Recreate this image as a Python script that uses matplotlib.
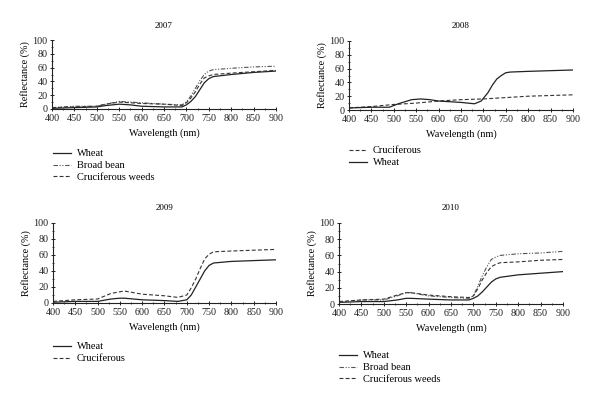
import matplotlib
matplotlib.use("Agg")
import matplotlib.pyplot as plt
from matplotlib.ticker import MultipleLocator

plt.rcParams['font.family'] = ['Liberation Serif', 'DejaVu Serif']

# ---- data ----
wl07 = [400, 450, 500, 520, 550, 575, 600, 650, 690, 700, 710, 720, 730, 740, 750, 760, 800, 850, 900]
wheat07 = [1, 2, 3, 5, 7, 6, 4, 3, 3, 6, 11, 18, 28, 38, 44, 47, 50, 53, 55]
bean07 = [2, 4, 4, 7, 11, 10, 9, 7, 6, 10, 19, 30, 41, 50, 55, 57, 59, 61, 62]
cruc07 = [2, 3, 4, 7, 10, 9, 8, 7, 5, 9, 16, 25, 36, 45, 48, 50, 52, 54, 56]

wl08 = [400, 450, 490, 510, 540, 560, 580, 600, 650, 680, 695, 710, 720, 730, 740, 750, 760, 800, 850, 900]
wheat08 = [3, 4, 4, 9, 15, 16, 15, 13, 11, 9, 13, 25, 36, 45, 50, 54, 55, 56, 57, 58]
wl08c = [400, 450, 500, 550, 600, 650, 700, 750, 800, 850, 900]
cruc08 = [3, 5, 8, 10, 13, 15, 16, 18, 20, 21, 22]

wl09 = [400, 450, 500, 530, 550, 560, 600, 650, 680, 700, 710, 720, 730, 740, 750, 760, 800, 850, 900]
wheat09 = [1, 2, 2, 5, 6, 6, 4, 3, 2, 4, 10, 20, 30, 40, 47, 50, 52, 53, 54]
cruc09 = [2, 4, 5, 12, 14, 15, 11, 9, 7, 10, 19, 30, 43, 55, 61, 64, 65, 66, 67]

wl10 = [400, 450, 500, 530, 550, 560, 600, 650, 690, 700, 710, 720, 730, 740, 750, 760, 800, 850, 900]
wheat10 = [2, 3, 3, 5, 7, 7, 6, 5, 5, 7, 10, 15, 21, 27, 31, 33, 36, 38, 40]
bean10 = [2, 5, 5, 10, 14, 14, 10, 8, 7, 10, 22, 35, 46, 55, 58, 60, 62, 63, 65]
cruc10 = [3, 5, 6, 11, 14, 14, 11, 9, 8, 10, 19, 30, 39, 46, 49, 51, 52, 54, 55]

xticks = [400, 450, 500, 550, 600, 650, 700, 750, 800, 850, 900]
yticks = [0, 20, 40, 60, 80, 100]

# ---- styles ----
S_WHEAT = dict(color='#222222', lw=0.9, ls='-')
S_BEAN = dict(color='#555555', lw=0.8, ls=(0, (4, 1.5, 1, 1.5, 1, 1.5)))
S_CRUC = dict(color='#333333', lw=0.8, ls=(0, (3.5, 2)))

W, H = 600, 403
fig = plt.figure(figsize=(6.0, 4.03), dpi=100)

FS = 6.5


def px_axes(l, r, top, bot):
    return fig.add_axes([l / W, 1 - bot / H, (r - l) / W, (bot - top) / H])


def style(ax, title):
    ax.set_xlim(400, 900)
    ax.set_ylim(0, 100)
    ax.set_xticks(xticks)
    ax.set_yticks(yticks)
    ax.xaxis.set_minor_locator(MultipleLocator(25))
    ax.yaxis.set_minor_locator(MultipleLocator(10))
    for s in ['top', 'right']:
        ax.spines[s].set_visible(False)
    for s in ['left', 'bottom']:
        ax.spines[s].set_linewidth(0.8)
        ax.spines[s].set_color('#222222')
    ax.tick_params(which='major', direction='inout', length=3.5, width=0.7,
                   labelsize=FS + 0.8, pad=1.5, colors='#222222')
    ax.tick_params(which='minor', direction='inout', length=2, width=0.6, colors='#222222')
    ax.set_xlabel('Wavelength (nm)', fontsize=FS + 0.8, labelpad=4)
    ax.set_ylabel('Reflectance (%)', fontsize=FS + 0.8, labelpad=2)
    ax.set_title(title, fontsize=FS, pad=9)


def legend(ax, x, ytop):
    ax.legend(loc='upper left', bbox_to_anchor=(x / W, 1 - ytop / H),
              bbox_transform=fig.transFigure, frameon=False, fontsize=FS + 1,
              borderpad=0, borderaxespad=0, handlelength=1.7, handletextpad=0.6,
              labelspacing=0.25)


# 2007
ax1 = px_axes(52, 276, 40, 109)
ax1.plot(wl07, wheat07, label='Wheat', **S_WHEAT)
ax1.plot(wl07, bean07, label='Broad bean', **S_BEAN)
ax1.plot(wl07, cruc07, label='Cruciferous weeds', **S_CRUC)
style(ax1, '2007')
legend(ax1, 53, 149)

# 2008
ax2 = px_axes(349, 573, 41, 110)
ax2.plot(wl08c, cruc08, label='Cruciferous', **S_CRUC)
ax2.plot(wl08, wheat08, label='Wheat', **S_WHEAT)
style(ax2, '2008')
legend(ax2, 349, 146)

# 2009
ax3 = px_axes(53, 276, 223, 303)
ax3.plot(wl09, wheat09, label='Wheat', **S_WHEAT)
ax3.plot(wl09, cruc09, label='Cruciferous', **S_CRUC)
style(ax3, '2009')
legend(ax3, 53, 342)

# 2010
ax4 = px_axes(339, 563, 223, 304)
ax4.plot(wl10, wheat10, label='Wheat', **S_WHEAT)
ax4.plot(wl10, bean10, label='Broad bean', **S_BEAN)
ax4.plot(wl10, cruc10, label='Cruciferous weeds', **S_CRUC)
style(ax4, '2010')
legend(ax4, 339, 351)

fig.savefig('out.png', dpi=100)
